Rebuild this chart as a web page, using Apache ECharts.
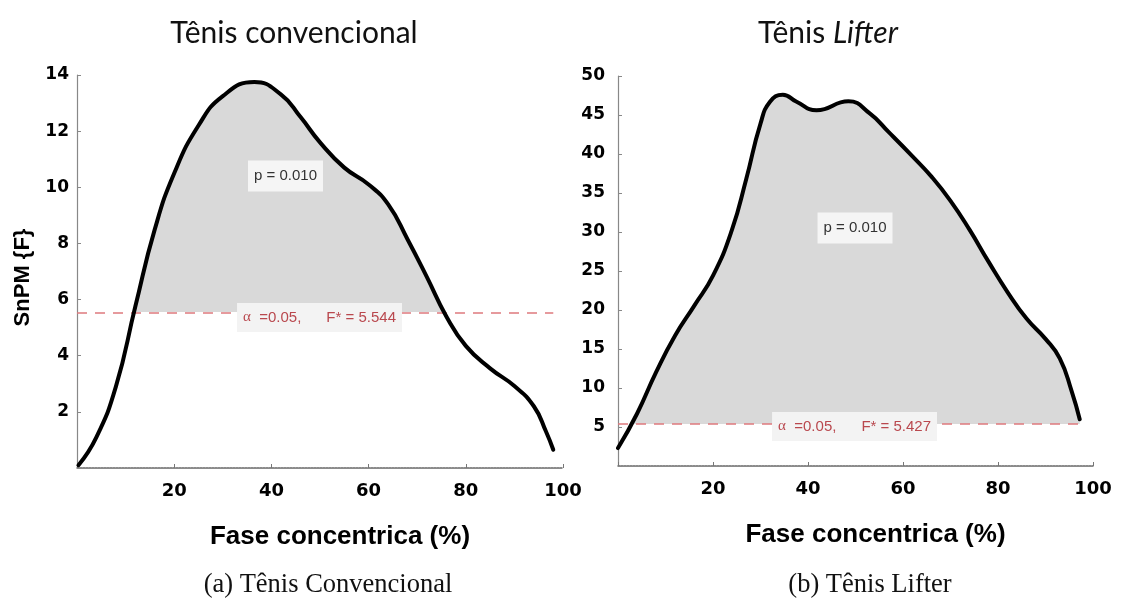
<!DOCTYPE html>
<html>
<head>
<meta charset="utf-8">
<script src="https://cdn.jsdelivr.net/npm/echarts@6/dist/echarts.min.js"></script>
<style>
  html, body { margin: 0; padding: 0; background: #fff; }
  #chart { width: 1121px; height: 607px; }
</style>
</head>
<body>
<div id="chart"></div>
<script>
// SnPM {F} curves over the concentric phase (%)
const convPhase = [0.3, 4, 8, 12, 16, 20, 25, 30, 36.5, 42, 46, 50, 55, 60, 64, 68, 72, 76, 80, 85, 90, 94, 96.5, 98];
const convF = [0.1, 1.1, 2.9, 5.75, 8.5, 10.5, 12.2, 13.25, 13.75, 13.3, 12.5, 11.6, 10.7, 10.1, 9.4, 8.15, 6.8, 5.4, 4.35, 3.55, 2.92, 2.2, 1.3, 0.65];

const lifterPhase = [0, 4, 8, 12, 16, 20, 24, 27, 30, 32, 34.7, 37.6, 41.8, 48.5, 53, 57, 62, 66, 70, 74, 78, 82, 86, 90, 93, 95.5, 97.2];
const lifterF = [2.3, 6.7, 12.0, 16.7, 20.5, 24.4, 30.3, 36.8, 43.9, 46.7, 47.6, 46.7, 45.6, 46.75, 45.2, 42.8, 39.7, 37.1, 34.0, 30.3, 26.2, 22.3, 18.9, 16.3, 13.8, 9.6, 6.0];

// critical thresholds and statistics
const convThreshold = 5.544;
const lifterThreshold = 5.427;
const alpha = '0.05';
const pValue = '0.010';

// tick labels
const phaseTicks = [20, 40, 60, 80, 100];
const convTicks = [2, 4, 6, 8, 10, 12, 14];
const lifterTicks = [5, 10, 15, 20, 25, 30, 35, 40, 45, 50];

const pairs = (xs, ys) => xs.map((x, i) => [x, ys[i]]);
const last = a => a[a.length - 1];
const SMOOTH = 0.5;

const chart = echarts.init(document.getElementById('chart'), null, { renderer: 'canvas' });

function xAxis(gridIndex) {
  return {
    type: 'value', gridIndex,
    min: 0, max: last(phaseTicks), interval: phaseTicks[1] - phaseTicks[0],
    name: 'Fase concentrica (%)', nameLocation: 'middle', nameGap: 56,
    nameTextStyle: { fontFamily: 'Liberation Sans', fontWeight: 'bold', fontSize: 26, color: '#000', padding: [0, 0, 0, 40] },
    axisLine: { lineStyle: { color: '#666', width: 1.5, type: [2, 1] } },
    axisTick: { inside: true, length: 4, lineStyle: { color: '#777' } },
    axisLabel: { formatter: v => (v === 0 ? '' : String(v)), fontFamily: 'DejaVu Sans', fontWeight: 'bold', fontSize: 18, color: '#000', margin: 14 },
    splitLine: { show: false }
  };
}

function yAxis(gridIndex, ticks, margin, named) {
  return {
    type: 'value', gridIndex,
    min: 0, max: last(ticks), interval: ticks[1] - ticks[0],
    name: named ? 'SnPM {F}' : '', nameLocation: 'middle', nameGap: 43,
    nameTextStyle: { fontFamily: 'Liberation Sans', fontWeight: 'bold', fontSize: 22, color: '#000', padding: [0, 12, 0, 0] },
    axisLine: { show: true, lineStyle: { color: '#888', width: 1.2 } },
    axisTick: { show: true, inside: true, length: 4, lineStyle: { color: '#888' } },
    axisLabel: { formatter: v => (v === 0 ? '' : String(v)), fontFamily: 'DejaVu Sans', fontWeight: 'bold', fontSize: 17, color: '#000', margin },
    splitLine: { show: false }
  };
}

// area above the critical threshold, shaded through a piecewise visual map on F
function fillSeries(idx, data) {
  return {
    type: 'line', xAxisIndex: idx, yAxisIndex: idx, data,
    smooth: SMOOTH, showSymbol: false, silent: true, z: 1,
    lineStyle: { width: 0 },
    areaStyle: { opacity: 1 }
  };
}

const labelBox = { backgroundColor: '#f3f3f3', fontFamily: 'Liberation Sans', fontSize: 15 };

function curveSeries(idx, data, threshold, lineEnd, pCoord, tCoord) {
  return {
    type: 'line', xAxisIndex: idx, yAxisIndex: idx, data,
    smooth: SMOOTH, showSymbol: false, silent: true, z: 3,
    lineStyle: { color: '#000', width: 4, cap: 'round', join: 'round' },
    markLine: {
      silent: true, symbol: 'none', z: 2,
      label: { show: false },
      lineStyle: { color: '#de7a7e', width: 1.5, type: [10, 8] },
      data: [[{ coord: [0, threshold] }, { coord: [lineEnd, threshold] }]]
    },
    markPoint: {
      silent: true, symbol: 'rect', symbolSize: 1, z: 6,
      itemStyle: { color: 'rgba(0,0,0,0)' },
      label: { show: true, position: 'inside' },
      data: [
        {
          coord: pCoord,
          label: Object.assign({}, labelBox, { formatter: 'p = ' + pValue, color: '#333', backgroundColor: '#f5f5f5', padding: [8, 6] })
        },
        {
          coord: tCoord,
          label: Object.assign({}, labelBox, {
            formatter: '{g|α}  =' + alpha + ',      F* = ' + threshold,
            color: '#b9484e', padding: [7, 6],
            rich: { g: { fontFamily: 'Liberation Serif', fontSize: 15, color: '#b9484e' } }
          })
        }
      ]
    }
  };
}

function shadePieces(threshold, top) {
  return [
    { gte: -1, lte: threshold, color: 'rgba(217,217,217,0)' },
    { gt: threshold, lte: top, color: '#d9d9d9' }
  ];
}

const titleFont = { fontFamily: 'Lato', fontSize: 30, fill: '#111' };
const captionFont = { fontFamily: 'Liberation Serif', fontSize: 26.5, fill: '#111' };

chart.setOption({
  animation: false,
  backgroundColor: '#fff',
  grid: [
    { left: 77, top: 75, width: 486, height: 393 },
    { left: 618, top: 76, width: 475, height: 390 }
  ],
  xAxis: [xAxis(0), xAxis(1)],
  yAxis: [yAxis(0, convTicks, 8, true), yAxis(1, lifterTicks, 13, false)],
  visualMap: [
    { show: false, type: 'piecewise', seriesIndex: 0, dimension: 1, pieces: shadePieces(convThreshold, last(convTicks) + 1) },
    { show: false, type: 'piecewise', seriesIndex: 1, dimension: 1, pieces: shadePieces(lifterThreshold, last(lifterTicks) + 1) }
  ],
  series: [
    fillSeries(0, pairs(convPhase, convF)),
    fillSeries(1, pairs(lifterPhase, lifterF)),
    curveSeries(0, pairs(convPhase, convF), convThreshold, 98, [42.9, 10.4], [49.9, 5.36]),
    curveSeries(1, pairs(lifterPhase, lifterF), lifterThreshold, 97.2, [49.9, 30.5], [49.8, 5.06])
  ],
  graphic: [
    { type: 'text', x: 294, y: 33, style: Object.assign({ text: 'Tênis convencional', align: 'center', verticalAlign: 'middle' }, titleFont) },
    { type: 'text', x: 828, y: 33, style: Object.assign({
        text: '{a|Tênis }{b|Lifter}', align: 'center', verticalAlign: 'middle',
        rich: { a: Object.assign({}, titleFont), b: Object.assign({ fontStyle: 'italic' }, titleFont) }
      }, titleFont) },
    { type: 'text', x: 328, y: 585, style: Object.assign({ text: '(a) Tênis Convencional', align: 'center', verticalAlign: 'middle' }, captionFont) },
    { type: 'text', x: 870, y: 585, style: Object.assign({ text: '(b) Tênis Lifter', align: 'center', verticalAlign: 'middle' }, captionFont) }
  ]
});
</script>
</body>
</html>
